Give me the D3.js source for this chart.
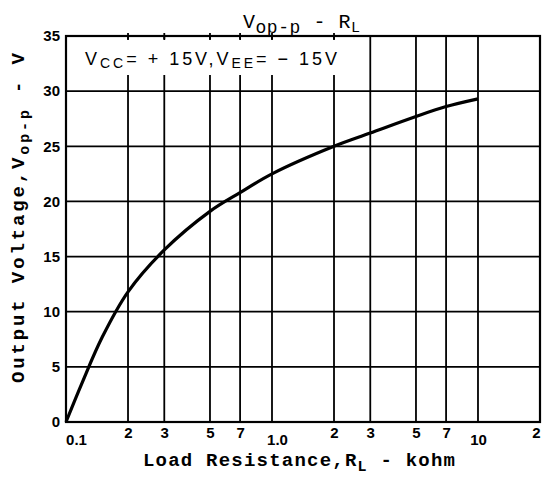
<!DOCTYPE html>
<html>
<head>
<meta charset="utf-8">
<script src="https://cdn.jsdelivr.net/npm/d3@7/dist/d3.min.js"></script>
<style>
  html, body { margin: 0; padding: 0; background: #fff; }
  svg { display: block; }
</style>
</head>
<body>
<svg id="chart" width="543" height="480"></svg>
<script>
// ---- data ----
const resistance = [0.1, 0.12, 0.15, 0.2, 0.3, 0.5, 0.7, 1.0, 2, 3, 5, 7, 10];
const voltage    = [0,   3.6,  7.7,  11.8, 15.6, 19.1, 20.8, 22.5, 25.0, 26.2, 27.7, 28.6, 29.3];
const xTickValues = [0.1, 0.2, 0.3, 0.5, 0.7, 1, 2, 3, 5, 7, 10, 20];
const xTickLabels = ["0.1", "2", "3", "5", "7", "1.0", "2", "3", "5", "7", "10", "2"];
const yTickValues = [0, 5, 10, 15, 20, 25, 30, 35];
const xGridValues = [0.2, 0.3, 0.5, 0.7, 1, 2, 3, 5, 7, 10];
const yGridValues = [5, 10, 15, 20, 25, 30];

// ---- layout ----
const svg = d3.select("#chart");
const pL = 66, pR = 540, pT = 36, pB = 422;
const x = d3.scaleLog().domain([0.1, 20]).range([pL, pR]);
const y = d3.scaleLinear().domain([0, 35]).range([pB, pT]);
const mono = "'Liberation Mono', 'DejaVu Sans Mono', monospace";
const sans = "'Liberation Sans', Arial, sans-serif";

// grid
svg.append("g").selectAll("line").data(yGridValues).join("line")
  .attr("x1", pL).attr("x2", pR)
  .attr("y1", d => y(d)).attr("y2", d => y(d))
  .attr("stroke", "#000").attr("stroke-width", 1.8);
svg.append("g").selectAll("line").data(xGridValues).join("line")
  .attr("x1", d => x(d)).attr("x2", d => x(d))
  .attr("y1", pT).attr("y2", pB)
  .attr("stroke", "#000").attr("stroke-width", 1.8);

// white label box over the grid
svg.append("rect").attr("x", pL + 2).attr("y", pT + 4)
  .attr("width", 272).attr("height", 35).attr("fill", "#fff");
// small ticks on the top border
svg.append("g").selectAll("line").data(xGridValues.filter(d => d <= 2)).join("line")
  .attr("x1", d => x(d)).attr("x2", d => x(d))
  .attr("y1", pT - 3).attr("y2", pT + 3)
  .attr("stroke", "#000").attr("stroke-width", 1.8);

// frame
svg.append("rect").attr("x", pL).attr("y", pT)
  .attr("width", pR - pL).attr("height", pB - pT)
  .attr("fill", "none").attr("stroke", "#000").attr("stroke-width", 2.2);

// curve
const line = d3.line().x(d => x(d[0])).y(d => y(d[1])).curve(d3.curveCatmullRom.alpha(0.5));
svg.append("path").datum(resistance.map((r, i) => [r, voltage[i]]))
  .attr("d", line).attr("fill", "none").attr("stroke", "#000")
  .attr("stroke-width", 3.2).attr("stroke-linejoin", "round");

// x axis labels
const xAxis = svg.append("g").attr("transform", `translate(0,${pB})`)
  .call(d3.axisBottom(x).tickValues(xTickValues).tickSize(0)
    .tickFormat((d, i) => xTickLabels[i]));
xAxis.select(".domain").remove();
xAxis.selectAll("text")
  .attr("font-family", sans).attr("font-weight", "bold").attr("font-size", 15)
  .attr("fill", "#000").attr("dy", null)
  .attr("y", (d, i) => xTickLabels[i].length > 1 ? 23 : 16)
  .attr("dx", (d, i) => i === 0 ? 10 : (i === 5 ? 5 : (i === xTickLabels.length - 1 ? -4 : 0)));

// y axis labels
const yAxis = svg.append("g").attr("transform", `translate(${pL},0)`)
  .call(d3.axisLeft(y).tickValues(yTickValues).tickSize(0).tickPadding(6));
yAxis.select(".domain").remove();
yAxis.selectAll("text")
  .attr("font-family", sans).attr("font-weight", "bold").attr("font-size", 15)
  .attr("fill", "#000");

// title
const title = svg.append("text").attr("x", 243).attr("y", 28)
  .attr("font-family", mono).attr("font-size", 20).attr("fill", "#000")
  .attr("textLength", 117).attr("lengthAdjust", "spacing");
title.append("tspan").text("V");
title.append("tspan").attr("dy", 5).attr("font-size", 18).text("op-p");
title.append("tspan").attr("dy", -5).text(" - R");
title.append("tspan").attr("dy", 4).attr("font-size", 15).text("L");

// annotation
const note = svg.append("text").attr("x", 85).attr("y", 65)
  .attr("font-family", sans).attr("font-size", 18).attr("fill", "#000")
  .attr("textLength", 252).attr("lengthAdjust", "spacing");
note.append("tspan").text("V");
note.append("tspan").attr("dy", 3).attr("font-size", 14).text("CC");
note.append("tspan").attr("dy", -3).text("= + 15V,V");
note.append("tspan").attr("dy", 3).attr("font-size", 14).text("EE");
note.append("tspan").attr("dy", -3).text("= − 15V");

// x axis title
const xt = svg.append("text").attr("x", 143).attr("y", 466)
  .attr("font-family", mono).attr("font-weight", "bold").attr("font-size", 19)
  .attr("fill", "#000").attr("textLength", 312).attr("lengthAdjust", "spacing");
xt.append("tspan").text("Load Resistance,R");
xt.append("tspan").attr("dy", 5).attr("font-size", 15).text("L");
xt.append("tspan").attr("dy", -5).text(" - kohm");

// y axis title
const yt = svg.append("text")
  .attr("transform", "translate(24,383) rotate(-90)")
  .attr("font-family", mono).attr("font-weight", "bold").attr("font-size", 19)
  .attr("fill", "#000").attr("textLength", 330).attr("lengthAdjust", "spacing");
yt.append("tspan").text("Output Voltage,V");
yt.append("tspan").attr("dy", 5).attr("font-size", 15).text("op-p");
yt.append("tspan").attr("dy", -5).text(" - V");
</script>
</body>
</html>
